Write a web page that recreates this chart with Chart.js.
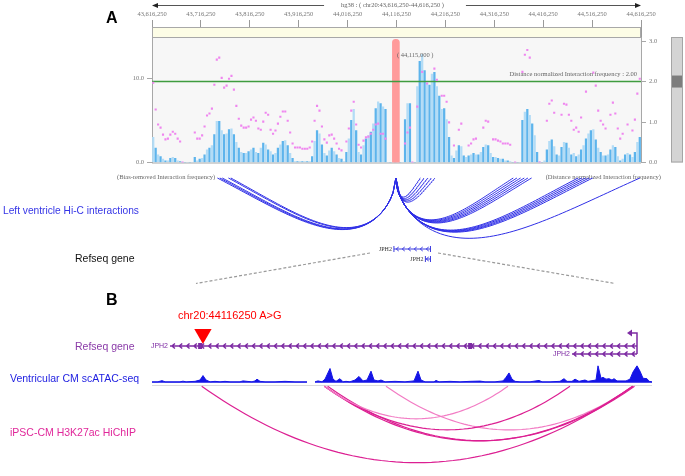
<!DOCTYPE html>
<html>
<head>
<meta charset="utf-8">
<script src="https://cdn.jsdelivr.net/npm/chart.js@4.4.0/dist/chart.umd.min.js"></script>
<style>
  body { margin: 0; background: #fff; }
  #fig { position: relative; width: 685px; height: 476px; overflow: hidden; font-family: "Liberation Sans", Arial, sans-serif; }
  #fig canvas { position: absolute; left: 0; }
  .lbl { position: absolute; white-space: nowrap; transform: translateY(-50%); font-size: 10.5px; line-height: 1; }
</style>
</head>
<body>
<div id="fig">
  <canvas id="cTrack" width="685" height="180" style="top:0"></canvas>
  <canvas id="cHic" width="685" height="125" style="top:165px"></canvas>
  <canvas id="cB" width="685" height="176" style="top:300px"></canvas>

  <div class="lbl" style="left:106px;top:18px;font-size:16px;font-weight:bold">A</div>
  <div class="lbl" style="left:3px;top:211px;color:#3535e6;font-size:10.2px">Left ventricle Hi-C interactions</div>
  <div class="lbl" style="left:75px;top:258px;color:#111">Refseq gene</div>
  <div class="lbl" style="left:106px;top:300px;font-size:16px;font-weight:bold">B</div>
  <div class="lbl" id="varLabel" style="left:178px;top:315px;color:#f00;font-size:11px"></div>
  <div class="lbl" style="left:75px;top:346px;color:#8a3aa8">Refseq gene</div>
  <div class="lbl" style="left:10px;top:378px;color:#1c1ce0">Ventricular CM scATAC-seq</div>
  <div class="lbl" style="left:10px;top:432px;color:#e0289a">iPSC-CM H3K27ac HiChIP</div>
</div>

<script>
// ---------- panel A : chr20:43,616,250-44,616,250, 5 kb bins ----------
const regionA = [43616.25, 44616.25];   // kb
const binKb = 5;
const axisTicksKb = [43616.25, 43716.25, 43816.25, 43916.25, 44016.25, 44116.25,
                     44216.25, 44316.25, 44416.25, 44516.25, 44616.25];
const viewpointKb = 44115;
const distNormCutoff = 2.0;

// bias-removed interaction frequency (left axis), one value per bin
const biasRemoved = [
  3.0,1.7,0.9,0.7,0.4,0.2,0.2,0.5,0.6,0.5, 0.2,0.1,0,0,0,0,0,0.6,0.2,0.4,
  0.5,0.9,1.5,1.7,2.0,3.3,4.9,4.9,3.8,3.3, 3.4,3.9,4.0,3.3,2.4,1.7,1.2,1.1,1.1,1.3,
  1.5,1.7,1.2,1.1,1.7,2.3,2.1,1.5,1.3,
  0.9,1.1,1.7,2.1,2.5,2.6,2.0,1.1,0.5,0.1, 0.1,0.1,0.1,0.1,0.1,0.1,0.7,2.5,3.8,3.4,
  2.1,1.1,0.8,1.4,1.7,1.3,0.9,0.5,0.4,0.1, 1.2,2.8,5.0,6.3,3.8,1.2,0.9,2.0,2.8,3.2,
  3.6,4.6,6.4,7.2,7.0,6.6,6.3,
  0,0,0,0,0,0,0,
  5.1,7.0,7.0,0,0,9.0,12.0,12.8,10.9,9.5, 9.2,10.5,10.7,9.0,7.9,6.3,6.4,5.1,3.0,0.8,
  0.5,1.4,2.0,1.9,0.8,0.6,0.8,0.9,1.1,0.9, 0.9,1.2,1.8,2.1,2.0,1.1,0.6,0.6,0.5,0.4,
  0.4,0.2,0.2,0.1,0,0,
  0,0,
  5.0,6.0,6.3,5.6,4.6,3.2,1.2,0.1,0,0.2, 1.5,2.5,2.7,1.9,0.9,0.8,1.8,2.4,2.3,1.7,
  0.9,1.1,0.7,0.9,1.5,2.0,2.8,3.4,3.8,3.9, 2.7,1.7,1.2,0.8,0.8,0.9,1.5,2.0,1.8,0.7,
  0.2,0.4,0.9,1.1,0.9,0.6,1.2,2.4,3.0
];

// distance normalized interaction frequency (right axis)
const distNorm = [
  1.97,1.31,0.94,0.86,0.69,0.57,0.59,0.69,0.76,0.71, 0.59,0.52,0.0,null,null,null,null,0.74,0.59,0.59,
  0.67,0.89,1.16,1.21,1.33,1.92,2.54,2.59,2.09,1.85, 1.90,2.07,2.14,1.80,1.40,1.08,0.91,0.86,0.86,0.89,
  1.06,1.11,1.03,0.84,0.81,1.01,1.23,1.18,0.81,
  0.71,0.79,0.96,1.13,1.26,1.26,1.03,0.74,0.47,0.37, 0.37,0.37,0.34,0.34,0.34,0.37,0.52,1.03,1.40,1.28,
  0.89,0.57,0.49,0.67,0.69,0.59,0.47,0.34,0.30,null, 0.52,0.84,1.28,1.50,0.94,0.44,0.37,0.54,0.62,0.64,
  0.71,0.81,0.94,0.96,0.71,0.71,0.59,
  null,null,null,null,null,null,null,
  0.47,0.74,0.86,0.0,null,1.38,null,2.24,null,1.95, null,null,2.32,2.04,null,1.65,1.65,1.50,0.99,null,
  0.42,null,0.81,0.96,null,null,0.42,0.47,0.57,0.59, null,null,0.86,1.03,1.01,null,0.57,0.57,0.54,0.52,
  0.47,0.47,0.47,0.44,null,0.0,
  null,null,
  2.24,2.66,2.78,2.59,null,null,null,0.0,null,null, 1.03,1.45,1.53,1.23,null,null,1.18,1.45,1.43,1.18,
  1.03,0.81,0.86,0.76,1.11,null,1.75,null,null,2.22, 1.90,1.28,1.03,0.94,0.84,null,1.18,1.48,1.21,0.84,
  0.59,0.71,null,0.94,null,0.79,1.06,1.70,2.07
];

// Hi-C loops from the viewpoint bin
const hicPartnersKb = [43750, 43755, 43760, 43772.5, 43777.5,
                       44165, 44172.5, 44180, 44187.5, 44195,
                       44355, 44362.5, 44370, 44377.5, 44385, 44392.5,
                       44487.5, 44495, 44502.5, 44510, 44517.5,
                       44614];

// JPH2 transcripts (minus strand)
const geneName = 'JPH2';
const txStartKb = [44110.98, 44175.3];
const txEndKb = [44185.7, 44185.7];
const exonKb = [44115.8, 44159.0];

// zoom connector between panels
const zoomWindowKb = [44062.1, 44201.1];
const zoomSpreadKb = [43706.2, 44563.1];

// ---------- panel B ----------
const regionB = [44108.1, 44188.1];
const variantKb = 44116.25;
const variantLabel = 'chr20:44116250 A>G';

const atacPosKb = [
  44108.10,44109.06,44109.70,44110.18,44112.58,44113.06,44113.54,44114.98,44115.78,44116.26,
  44116.74,44117.38,44118.18,44118.98,44119.78,44120.58,44122.18,44122.66,44123.30,44124.10,
  44124.58,44124.90,44125.38,44126.18,44127.78,44129.38,44130.98,44132.90,44133.50,44134.18,
  44134.66,44135.30,44135.78,44136.58,44137.06,44137.54,44138.18,44138.66,44139.14,44139.78,
  44140.58,44141.22,44141.86,44142.50,44143.14,44143.62,44144.26,44144.74,44145.38,44146.98,
  44148.58,44150.02,44150.66,44151.14,44151.78,44153.22,44153.54,44154.02,44155.78,44157.38,
  44158.98,44160.58,44161.38,44162.98,44164.26,44164.74,44165.22,44165.70,44166.18,44166.98,
  44168.58,44170.02,44170.50,44171.78,44173.38,44174.02,44174.50,44175.30,44175.78,44176.42,
  44177.38,44177.86,44179.14,44179.46,44179.94,44180.26,44180.74,44181.22,44181.70,44182.02,
  44182.50,44183.30,44183.94,44184.58,44185.06,44185.70,44186.18,44186.66,44187.30,44187.62,
  44188.10
];
const atacSignal = [
  1,1,2.3,1,1,1.7,1,1.5,3,8,
  3,1,1.5,1,1.5,1,1,2,1.5,1,
  2,4,1.5,1,1,1.5,1,1,null,1,
  2,1,4,16,4,1.5,4.5,1,1.5,1,
  3,7,2,3,13,3,2,3,1,1.5,
  1,2,13,3,1,1,2.5,1,1.5,1,
  1.5,1.8,1,1,2,6,11,4,1.5,1,
  1,2.5,1,1,1.5,4.5,1.5,1.5,4,1.5,
  3,1.5,3,19,5,6,4,4.5,3,4.5,
  2,2,2,4,12,19,13,5,4.5,1.5,
  1
];

const hichipFromKb = [44116.05, 44135.67, 44135.67, 44135.67, 44136.2, 44145.54];
const hichipToKb   = [44185.01, 44165.06, 44174.98, 44185.01, 44185.3, 44185.01];
const hichipStrong = [true, false, true, true, true, false];

// ---------- helpers ----------
const fmtBp = kb => Math.round(kb * 1000).toLocaleString('en-US');
const serif = px => px + 'px "Liberation Serif", "DejaVu Serif", serif';
const sans = px => px + 'px "Liberation Sans", Arial, sans-serif';
const baseOpts = {
  responsive: false,
  animation: false,
  events: [],
  plugins: { legend: { display: false }, tooltip: { enabled: false } }
};

function drawGene(ctx, xs, g) {
  const x0 = xs.getPixelForValue(g.start), x1 = xs.getPixelForValue(g.end);
  ctx.strokeStyle = g.color;
  ctx.fillStyle = g.color;
  ctx.lineWidth = g.width;
  ctx.beginPath();
  ctx.moveTo(x0, g.y); ctx.lineTo(x1, g.y);
  for (let cx = x1 - g.step / 2; cx > x0 + 2; cx -= g.step) {
    ctx.moveTo(cx + g.chevW / 2, g.y - g.chevH / 2);
    ctx.lineTo(cx - g.chevW / 2, g.y);
    ctx.lineTo(cx + g.chevW / 2, g.y + g.chevH / 2);
  }
  if (g.ticks) {
    ctx.moveTo(x0, g.y - 3); ctx.lineTo(x0, g.y + 3);
    ctx.moveTo(x1, g.y - 3); ctx.lineTo(x1, g.y + 3);
  }
  ctx.stroke();
  ctx.font = g.font;
  ctx.fillStyle = g.labelColor;
  ctx.textAlign = 'right';
  ctx.textBaseline = 'middle';
  ctx.fillText(geneName, x0 - 2, g.y);
}

// ---------- chart 1 : interaction frequency track ----------
const trackDecor = {
  id: 'trackDecor',
  beforeDraw(chart) {
    const { ctx, chartArea: a } = chart;
    ctx.save();
    ctx.fillStyle = '#f7f7f7';
    ctx.fillRect(a.left, a.top, a.right - a.left, a.bottom - a.top);
    ctx.restore();
  },
  beforeDatasetsDraw(chart) {
    const { ctx, chartArea: a } = chart;
    ctx.save();
    ctx.fillStyle = '#fdfde6';
    ctx.fillRect(a.left, a.top - 10, a.right - a.left, 10);
    ctx.strokeStyle = '#a8a8a8';
    ctx.lineWidth = 1;
    ctx.strokeRect(a.left + 0.5, a.top - 9.5, a.right - a.left - 1, 10);
    ctx.beginPath();
    ctx.moveTo(a.left, a.bottom + 0.5);
    ctx.lineTo(a.right, a.bottom + 0.5);
    ctx.stroke();
    ctx.restore();
  },
  afterDraw(chart) {
    const { ctx, chartArea: a, scales: { x, yR } } = chart;
    ctx.save();
    ctx.font = serif(6.5);
    ctx.textBaseline = 'middle';

    // region header with arrows
    const title = 'hg38 : ( chr20:' + fmtBp(regionA[0]) + '-' + fmtBp(regionA[1]) + ' )';
    const cx = (a.left + a.right) / 2 - 4, tw = ctx.measureText(title).width;
    ctx.fillStyle = '#666';
    ctx.textAlign = 'center';
    ctx.fillText(title, cx, 5);
    ctx.strokeStyle = '#555';
    ctx.lineWidth = 1;
    ctx.beginPath();
    ctx.moveTo(a.left + 3, 5.5); ctx.lineTo(cx - tw / 2 - 17, 5.5);
    ctx.moveTo(cx + tw / 2 + 22, 5.5); ctx.lineTo(a.right - 3, 5.5);
    ctx.stroke();
    ctx.fillStyle = '#222';
    ctx.beginPath(); ctx.moveTo(a.left, 5.5); ctx.lineTo(a.left + 6, 3); ctx.lineTo(a.left + 6, 8); ctx.fill();
    ctx.beginPath(); ctx.moveTo(a.right, 5.5); ctx.lineTo(a.right - 6, 3); ctx.lineTo(a.right - 6, 8); ctx.fill();

    // viewpoint and cutoff captions
    ctx.fillStyle = '#666';
    ctx.textAlign = 'left';
    ctx.fillText('( ' + fmtBp(viewpointKb) + ' )', x.getPixelForValue(viewpointKb) + 1, 55);
    ctx.textAlign = 'right';
    ctx.fillText('Distance normalized Interaction frequency : ' + distNormCutoff.toFixed(2),
      a.right - 4, yR.getPixelForValue(distNormCutoff) - 7);

    // axis captions under the track
    ctx.textAlign = 'left';
    ctx.fillText('(Bias-removed Interaction frequency)', a.left - 35, a.bottom + 15);
    ctx.textAlign = 'right';
    ctx.fillText('(Distance normalized Interaction frequency)', a.right + 20, a.bottom + 15);

    // cutoff slider
    const sx = a.right + 30, hy = yR.getPixelForValue(distNormCutoff);
    ctx.fillStyle = '#d4d4d4';
    ctx.strokeStyle = '#a5a5a5';
    ctx.fillRect(sx, a.top, 12, a.bottom - a.top);
    ctx.strokeRect(sx + 0.5, a.top + 0.5, 11, a.bottom - a.top - 1);
    ctx.fillStyle = '#7d7d7d';
    ctx.fillRect(sx + 1, hy - 6, 10, 12);
    ctx.restore();
  }
};

const barData = biasRemoved.map((v, i) => ({ x: regionA[0] + binKb * (i + 0.5), y: v }));
const dotData = distNorm.map((v, i) => ({ x: regionA[0] + binKb * (i + 0.5), y: v }));
const axisFont = { family: '"Liberation Serif", "DejaVu Serif", serif', size: 6.5 };

new Chart(document.getElementById('cTrack'), {
  type: 'bar',
  data: {
    datasets: [
      {
        type: 'line', data: dotData, yAxisID: 'yR', showLine: false,
        pointStyle: 'rect', pointRadius: 1.5, pointBorderWidth: 0,
        pointBackgroundColor: '#ef86ef', order: 0
      },
      {
        type: 'line', data: [{ x: regionA[0], y: distNormCutoff }, { x: regionA[1], y: distNormCutoff }],
        yAxisID: 'yR', borderColor: '#3f9c3f', borderWidth: 1.5, pointRadius: 0, order: 1
      },
      {
        type: 'bar', data: [{ x: viewpointKb, y: [-0.05, 3.04] }], yAxisID: 'yR',
        backgroundColor: '#ff9b9b', barThickness: 7, borderRadius: 4, borderSkipped: false,
        grouped: false, order: 2
      },
      {
        type: 'bar', data: barData, yAxisID: 'yL',
        backgroundColor: biasRemoved.map((_, i) => i % 2 ? '#5db4ec' : '#b3dcf6'),
        barThickness: 1.6, borderWidth: 0, grouped: false, order: 3
      }
    ]
  },
  options: {
    ...baseOpts,
    layout: { padding: { left: 122, right: 14, top: 0, bottom: 17.5 } },
    scales: {
      x: {
        type: 'linear', position: 'top', min: regionA[0], max: regionA[1], offset: false,
        afterBuildTicks: s => { s.ticks = axisTicksKb.map(v => ({ value: v })); },
        afterFit: s => { s.height = 37; },
        ticks: { callback: v => fmtBp(v), font: axisFont, color: '#777', padding: 2, maxRotation: 0, autoSkip: false },
        grid: { drawOnChartArea: false, tickLength: 17, color: '#9a9a9a', offset: false },
        border: { color: '#a8a8a8' }
      },
      yL: {
        position: 'left', min: 0, max: 14.9,
        afterBuildTicks: s => { s.ticks = [{ value: 0 }, { value: 10 }]; },
        afterFit: s => { s.width = 30; },
        ticks: { callback: v => v.toFixed(1), font: axisFont, color: '#777', padding: 3 },
        grid: { drawOnChartArea: false, tickLength: 5, color: '#a8a8a8' },
        border: { color: '#a8a8a8' }
      },
      yR: {
        position: 'right', min: 0, max: 3.1,
        afterBuildTicks: s => { s.ticks = [0, 1, 2, 3].map(v => ({ value: v })); },
        afterFit: s => { s.width = 30; },
        ticks: { callback: v => v.toFixed(1), font: axisFont, color: '#777', padding: 3 },
        grid: { drawOnChartArea: false, tickLength: 5, color: '#a8a8a8' },
        border: { color: '#a8a8a8' }
      }
    }
  },
  plugins: [trackDecor]
});

// ---------- chart 2 : Hi-C loops, gene, zoom connector ----------
const hicRowY = 13;
const hicArcs = hicPartnersKb.map(p => {
  const depth = 2.7 * Math.sqrt(Math.abs(p - viewpointKb));
  const pts = [];
  for (let k = 0; k <= 60; k++) {
    const t = k / 60;
    pts.push({ x: viewpointKb + (p - viewpointKb) * t,
               y: hicRowY + depth * Math.sin(Math.PI * Math.pow(t, 0.576)) });
  }
  return { data: pts, borderColor: '#2f2fe6', borderWidth: 1, pointRadius: 0, tension: 0 };
});
const connectors = [0, 1].map(i => ({
  data: [{ x: zoomWindowKb[i], y: 88 }, { x: zoomSpreadKb[i], y: 118.5 }],
  borderColor: '#9a9a9a', borderWidth: 1.2, borderDash: [3, 2], pointRadius: 0
}));

const geneA = {
  id: 'geneA',
  afterDatasetsDraw(chart) {
    const { ctx, scales: { x } } = chart;
    ctx.save();
    txStartKb.forEach((s, i) => drawGene(ctx, x, {
      start: s, end: txEndKb[i], y: 84 + 10 * i, color: '#3a3ae0', width: 1,
      step: 6, chevW: 2.5, chevH: 4, ticks: true,
      font: serif(6), labelColor: '#333'
    }));
    ctx.restore();
  }
};

new Chart(document.getElementById('cHic'), {
  type: 'line',
  data: { datasets: [...hicArcs, ...connectors] },
  options: {
    ...baseOpts,
    layout: { padding: { left: 152, right: 44, top: 0, bottom: 0 } },
    scales: {
      x: { type: 'linear', display: false, min: regionA[0], max: regionA[1] },
      y: { display: false, min: 0, max: 125, reverse: true }
    }
  },
  plugins: [geneA]
});

// ---------- chart 3 : panel B ----------
document.getElementById('varLabel').textContent = variantLabel;
const bPxPerKb = 500 / (regionB[1] - regionB[0]);
const hichipRowY = 86;
const hichipArcs = hichipFromKb.map((a, i) => {
  const b = hichipToKb[i], depth = 0.2 * (b - a) * bPxPerKb;
  const pts = [];
  for (let k = 0; k <= 60; k++) {
    const t = k / 60;
    pts.push({ x: a + (b - a) * t, y: hichipRowY + depth * 4 * t * (1 - t) });
  }
  return { data: pts, borderColor: hichipStrong[i] ? '#dc1f92' : '#f27cc4',
           borderWidth: 1.2, pointRadius: 0, tension: 0 };
});

const geneB = {
  id: 'geneB',
  beforeDatasetsDraw(chart) {
    const { ctx, chartArea: a } = chart;
    ctx.save();
    ctx.strokeStyle = '#dcdcdc';
    ctx.lineWidth = 1;
    ctx.beginPath();
    ctx.moveTo(a.left, 85.5); ctx.lineTo(a.right, 85.5);
    ctx.stroke();
    ctx.restore();
  },
  afterDatasetsDraw(chart) {
    const { ctx, scales: { x } } = chart;
    const purple = '#7d2ba3';
    ctx.save();
    txStartKb.forEach((s, i) => drawGene(ctx, x, {
      start: s, end: txEndKb[i], y: 46 + 8 * i, color: purple, width: 1.5,
      step: 7.3, chevW: 3, chevH: 5, ticks: false,
      font: sans(7), labelColor: purple
    }));
    ctx.fillStyle = purple;
    exonKb.forEach(e => {
      const ex = x.getPixelForValue(e);
      ctx.fillRect(ex - 2, 43, 4, 6);
    });
    // transcription start arrow
    const tx = x.getPixelForValue(txEndKb[0]);
    ctx.strokeStyle = purple;
    ctx.lineWidth = 1.5;
    ctx.beginPath();
    ctx.moveTo(tx, 54); ctx.lineTo(tx, 33); ctx.lineTo(tx - 6, 33);
    ctx.stroke();
    ctx.beginPath();
    ctx.moveTo(tx - 10, 33); ctx.lineTo(tx - 5, 29.5); ctx.lineTo(tx - 5, 36.5);
    ctx.fill();
    ctx.restore();
  }
};

new Chart(document.getElementById('cB'), {
  type: 'line',
  data: {
    datasets: [
      {
        data: [{ x: variantKb, y: 27 }], showLine: false,
        pointStyle: 'triangle', pointRotation: 180, pointRadius: 10,
        pointBackgroundColor: '#ff0000', pointBorderWidth: 0
      },
      {
        data: atacPosKb.map((p, i) => ({ x: p, y: atacSignal[i] })), yAxisID: 'yAtac',
        borderColor: '#1414e6', backgroundColor: '#1414e6', fill: 'origin',
        borderWidth: 1, pointRadius: 0, tension: 0, spanGaps: false
      },
      ...hichipArcs
    ]
  },
  options: {
    ...baseOpts,
    layout: { padding: { left: 152, right: 33, top: 0, bottom: 0 } },
    scales: {
      x: { type: 'linear', display: false, min: regionB[0], max: regionB[1] },
      y: { display: false, min: 0, max: 176, reverse: true },
      yAtac: { display: false, min: -94, max: 82 }
    }
  },
  plugins: [geneB]
});
</script>
</body>
</html>
